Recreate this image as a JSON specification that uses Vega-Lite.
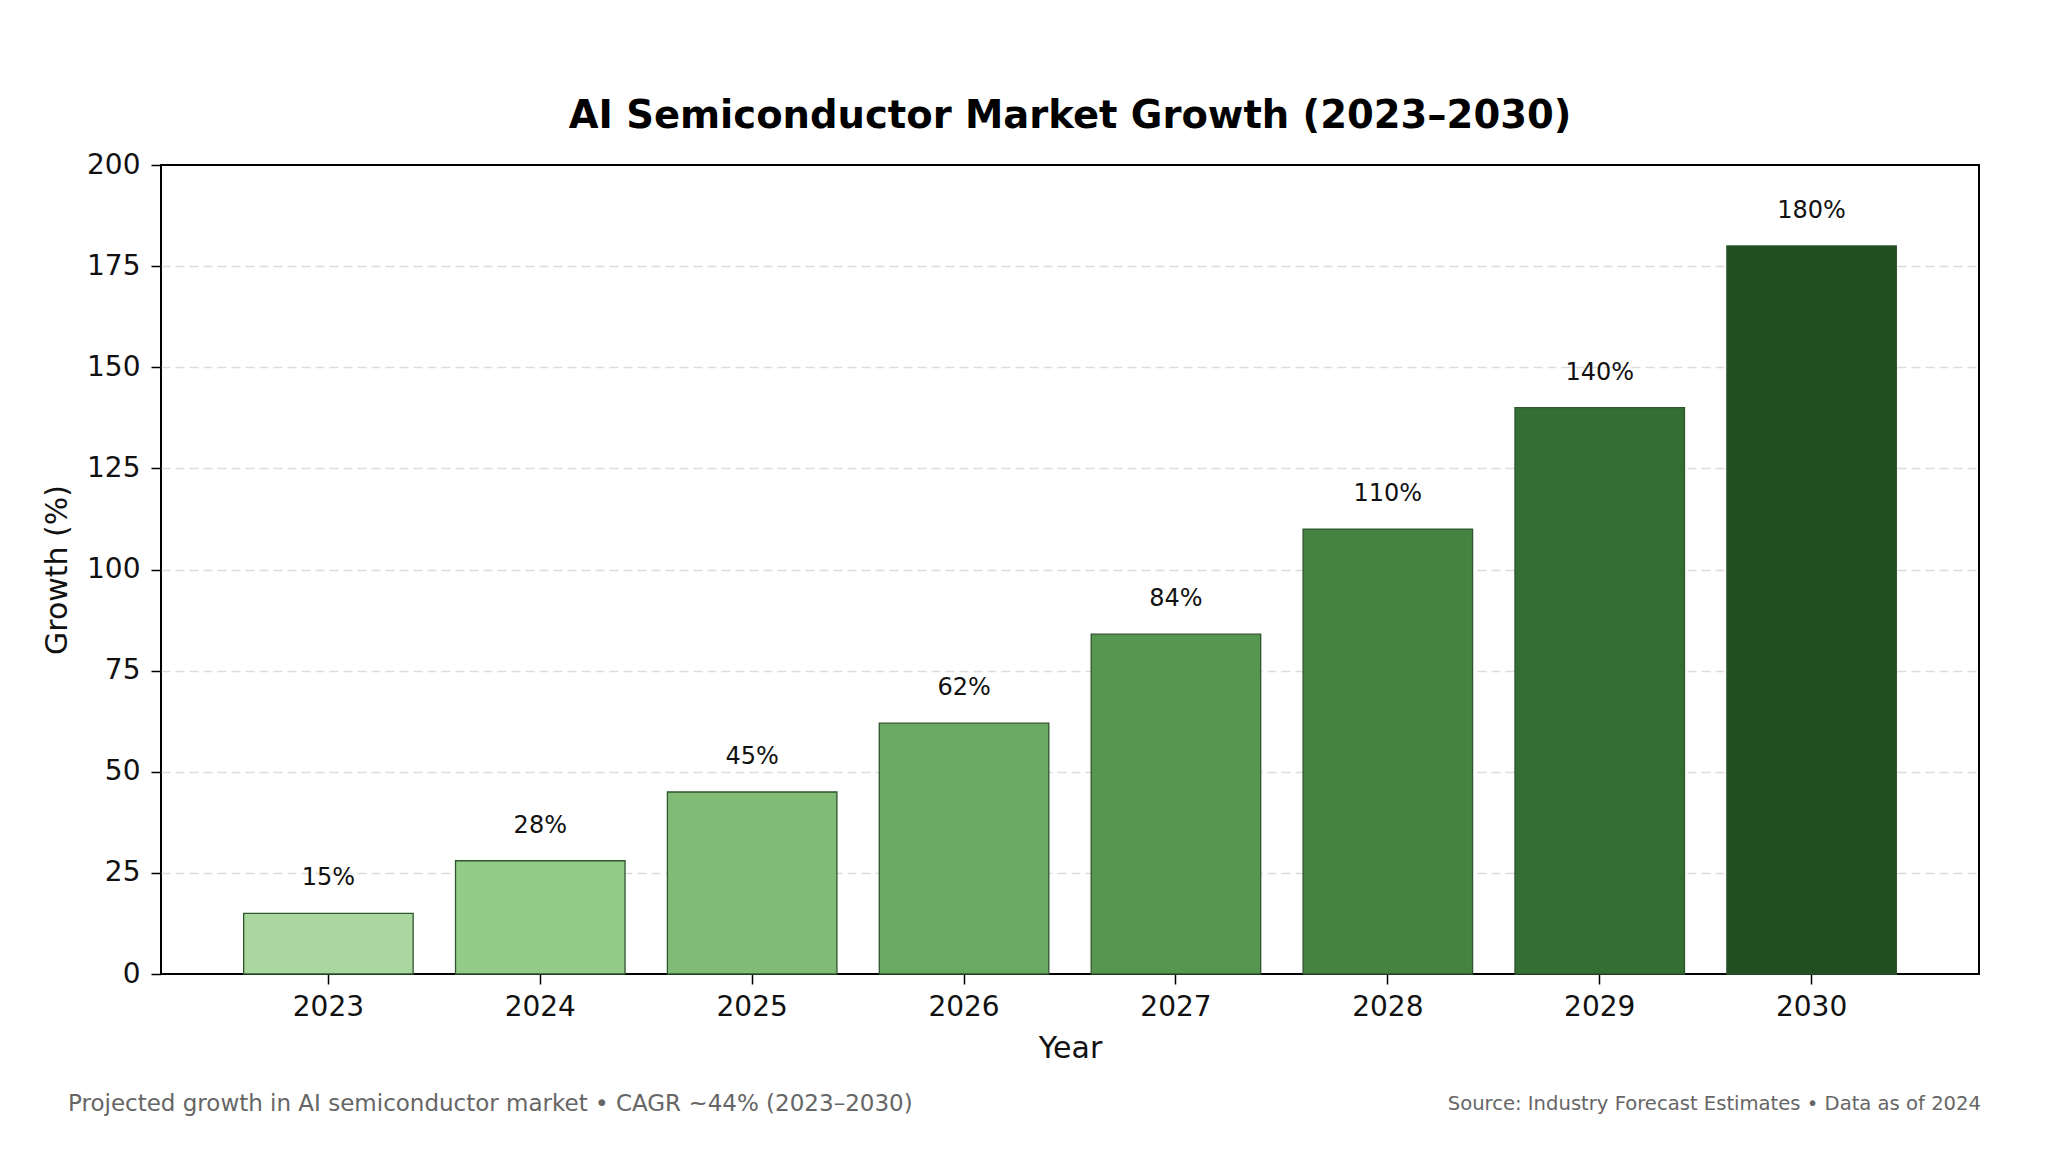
{
  "$schema": "https://vega.github.io/schema/vega-lite/v6.json",
  "description": "AI semiconductor market growth, 2023-2030.",
  "background": "white",
  "padding": {"left": 41, "top": 95, "right": 40, "bottom": 20},
  "spacing": 20,
  "datasets": {
    "growth": [
      {"year": "2023", "growth": 15, "label": "15%"},
      {"year": "2024", "growth": 28, "label": "28%"},
      {"year": "2025", "growth": 45, "label": "45%"},
      {"year": "2026", "growth": 62, "label": "62%"},
      {"year": "2027", "growth": 84, "label": "84%"},
      {"year": "2028", "growth": 110, "label": "110%"},
      {"year": "2029", "growth": 140, "label": "140%"},
      {"year": "2030", "growth": 180, "label": "180%"}
    ],
    "notes": [
      {"side": "left", "note": "Projected growth in AI semiconductor market • CAGR ~44% (2023–2030)"},
      {"side": "right", "note": "Source: Industry Forecast Estimates • Data as of 2024"}
    ]
  },
  "vconcat": [
    {
      "title": {
        "text": "AI Semiconductor Market Growth (2023–2030)",
        "fontSize": 38.5,
        "fontWeight": "bold",
        "color": "#000000",
        "anchor": "middle",
        "frame": "group",
        "offset": 15
      },
      "width": 1818,
      "height": 809,
      "data": {"name": "growth"},
      "view": {"stroke": "#000000", "strokeWidth": 2},
      "encoding": {
        "x": {
          "field": "year",
          "type": "ordinal",
          "title": "Year",
          "scale": {"paddingInner": 0.2, "paddingOuter": 0.39},
          "axis": {
            "labelAngle": 0,
            "labelFontSize": 28,
            "labelColor": "#111111",
            "labelPadding": 9,
            "tickSize": 10,
            "tickWidth": 1.5,
            "tickColor": "#000000",
            "domain": false,
            "grid": false,
            "titleFontSize": 30,
            "titleFontWeight": "normal",
            "titleColor": "#111111",
            "titlePadding": 12
          }
        }
      },
      "layer": [
        {
          "mark": {"type": "bar", "stroke": "#2f552f", "strokeWidth": 1.3},
          "encoding": {
            "y": {
              "field": "growth",
              "type": "quantitative",
              "title": "Growth (%)",
              "scale": {"domain": [0, 200], "nice": false},
              "axis": {
                "values": [0, 25, 50, 75, 100, 125, 150, 175, 200],
                "labelFontSize": 28,
                "labelColor": "#111111",
                "labelPadding": 11,
                "tickSize": 10,
                "tickWidth": 1.5,
                "tickColor": "#000000",
                "domain": false,
                "grid": true,
                "gridDash": [9, 5],
                "gridColor": "#dcdcdc",
                "gridWidth": 1.5,
                "gridOpacity": {"condition": {"test": "datum.value == 0 || datum.value == 200", "value": 0}, "value": 1},
                "titleFontSize": 30,
                "titleFontWeight": "normal",
                "titleColor": "#111111",
                "titlePadding": 14
              }
            },
            "color": {
              "field": "year",
              "type": "nominal",
              "scale": {
                "domain": ["2023", "2024", "2025", "2026", "2027", "2028", "2029", "2030"],
                "range": ["#aad7a0", "#93cb89", "#80bc76", "#69a961", "#569750", "#458341", "#336e33", "#214f21"]
              },
              "legend": null
            }
          }
        },
        {
          "mark": {"type": "text", "baseline": "alphabetic", "dy": -28, "fontSize": 24, "color": "#111111"},
          "encoding": {
            "y": {"field": "growth", "type": "quantitative"},
            "text": {"field": "label", "type": "nominal"}
          }
        }
      ]
    },
    {
      "width": 1820,
      "height": 40,
      "data": {"name": "notes"},
      "view": {"stroke": null},
      "encoding": {
        "x": {
          "field": "side",
          "type": "nominal",
          "scale": {"type": "point", "domain": ["left", "right"], "padding": 0},
          "axis": null
        }
      },
      "layer": [
        {
          "transform": [{"filter": "datum.side == 'left'"}],
          "mark": {"type": "text", "align": "left", "dx": -93, "fontSize": 23, "color": "#666666"},
          "encoding": {"text": {"field": "note", "type": "nominal"}}
        },
        {
          "transform": [{"filter": "datum.side == 'right'"}],
          "mark": {"type": "text", "align": "right", "fontSize": 19.6, "color": "#666666"},
          "encoding": {"text": {"field": "note", "type": "nominal"}}
        }
      ]
    }
  ],
  "config": {
    "font": "DejaVu Sans",
    "view": {"stroke": null}
  }
}
